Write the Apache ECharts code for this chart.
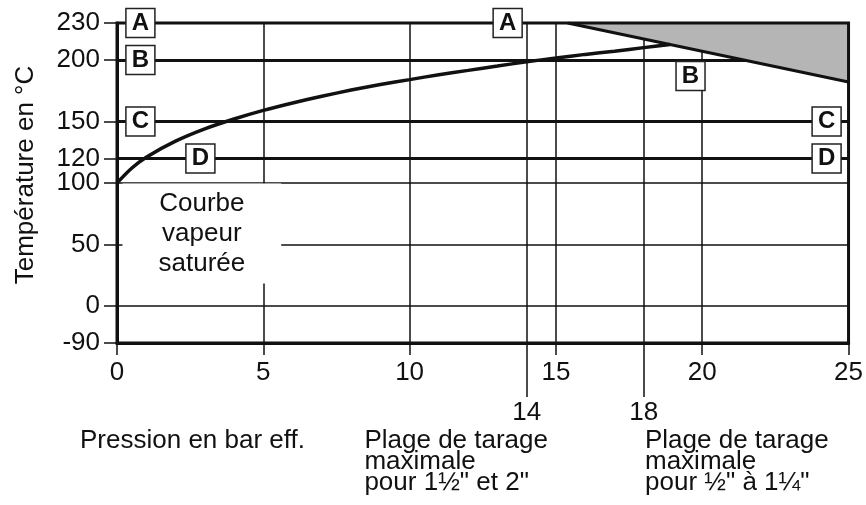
<!DOCTYPE html>
<html>
<head>
<meta charset="utf-8">
<script src="https://cdn.jsdelivr.net/npm/echarts@6/dist/echarts.min.js"></script>
<style>html,body{margin:0;padding:0;background:#fff}#chart{width:866px;height:505px}</style>
</head>
<body>
<div id="chart"></div>
<script>
// courbe vapeur saturée : pression (bar eff.) -> température (°C)
var steamPressure = [0, 0.5, 1, 2, 3, 4, 5, 6, 7, 8, 9, 10, 11, 12, 13, 14, 15, 16, 17, 18, 18.9];
var steamTemp = [100, 112, 121, 134, 144, 152, 159, 165, 170.5, 175.5, 180, 184, 188, 191.5, 195, 198.5, 201.5, 204.5, 207, 210, 212.5];
// limite haute (zone grisée au-dessus)
var limitPressure = [15.4, 25];
var limitTemp = [230, 182];
// lignes repères B, C, D (A = bord haut)
var levelTemp = [200, 150, 120];
var boxLetters = ['A', 'A', 'B', 'B', 'C', 'C', 'D', 'D'];
var boxPressure = [0.8, 13.35, 0.8, 19.6, 0.8, 24.25, 2.85, 24.25];
var boxTemp = [230, 230, 200, 187, 150, 150, 120, 120];
// graduations
var yTicks = [230, 200, 150, 120, 100, 50, 0, -90];
var rangeTicks = [14, 18];

var FONT = '"Liberation Sans", Arial, Helvetica, sans-serif';
var INK = '#111';

// axe coupé : -90 est dessiné à la place de -30
function toAxis(t) { return t < 0 ? t / 3 : t; }
function fromAxis(v) { return v < 0 ? v * 3 : v; }

function zip(xs, ys) {
    return xs.map(function (x, i) { return [x, toAxis(ys[i])]; });
}

var dom = document.getElementById('chart');
var myChart = echarts.init(dom);

var yCustom = yTicks.map(toAxis);

option = {
    backgroundColor: '#fff',
    animation: false,
    grid: {
        show: true,
        z: 10,
        left: 117, right: 9, top: 23, bottom: 162,
        borderWidth: 3,
        borderColor: INK,
        backgroundColor: 'transparent'
    },
    xAxis: [{
        type: 'value',
        min: 0, max: 25, interval: 5,
        axisLine: {show: true, onZero: false, lineStyle: {color: INK, width: 3}},
        axisTick: {show: true, length: 12, lineStyle: {color: INK, width: 1.5}},
        axisLabel: {fontSize: 26, color: INK, fontFamily: FONT, margin: 17},
        splitLine: {show: true, lineStyle: {color: INK, width: 1.5}}
    }, {
        type: 'value',
        position: 'bottom',
        min: 0, max: 25,
        axisLine: {show: false, onZero: false},
        axisTick: {show: true, customValues: rangeTicks, length: 54, lineStyle: {color: INK, width: 1.5}},
        axisLabel: {customValues: rangeTicks, fontSize: 26, color: INK, fontFamily: FONT, margin: 57},
        splitLine: {show: true, lineStyle: {color: INK, width: 1.5}}
    }],
    yAxis: {
        type: 'value',
        min: toAxis(-90), max: 230,
        name: 'Température en °C',
        nameLocation: 'middle',
        nameGap: 78,
        nameTextStyle: {fontSize: 26, color: INK, fontFamily: FONT, padding: [0, 0, 0, 16]},
        axisLine: {show: true, onZero: false, lineStyle: {color: INK, width: 3}},
        axisTick: {show: true, customValues: yCustom, length: 13, lineStyle: {color: INK, width: 1.5}},
        axisLabel: {
            customValues: yCustom, fontSize: 26, color: INK, fontFamily: FONT, margin: 17,
            formatter: function (v) { return String(Math.round(fromAxis(v))); }
        },
        splitLine: {show: true, lineStyle: {color: INK, width: 1.5}}
    },
    series: [
        {
            name: 'repères',
            type: 'line',
            data: [],
            markLine: {
                z: 1,
                silent: true,
                symbol: 'none',
                label: {show: false},
                lineStyle: {color: INK, width: 3, type: 'solid'},
                data: levelTemp.map(function (t) { return {yAxis: toAxis(t)}; })
            }
        },
        {
            name: 'limite',
            type: 'line',
            z: 2,
            symbol: 'none',
            data: zip(limitPressure, limitTemp),
            lineStyle: {color: INK, width: 3},
            areaStyle: {color: '#b5b5b5', opacity: 1, origin: 'end'}
        },
        {
            name: 'Courbe vapeur saturée',
            type: 'line',
            z: 3,
            smooth: 0.3,
            symbol: 'none',
            data: zip(steamPressure, steamTemp),
            lineStyle: {color: INK, width: 3.5}
        },
        {
            name: 'lettres',
            type: 'scatter',
            z: 12,
            symbol: 'rect',
            symbolSize: [29, 29],
            data: zip(boxPressure, boxTemp),
            itemStyle: {color: '#fff', borderColor: '#222', borderWidth: 1.5, opacity: 1},
            label: {
                show: true, position: 'inside',
                formatter: function (p) { return boxLetters[p.dataIndex]; },
                fontSize: 24, fontWeight: 'bold', color: INK, fontFamily: FONT
            }
        },
        {
            name: 'texte',
            type: 'scatter',
            z: 12,
            symbolSize: 1,
            data: [[2.9, 59]],
            itemStyle: {color: '#fff', opacity: 1},
            label: {
                show: true, position: 'inside',
                formatter: 'Courbe\nvapeur\nsaturée',
                backgroundColor: '#fff',
                padding: [5, 36],
                lineHeight: 30,
                opacity: 1,
                textBorderWidth: 0,
                fontSize: 26, color: INK, fontFamily: FONT
            }
        }
    ],
    graphic: [
        {
            type: 'text', left: 80, top: 428,
            style: {text: 'Pression en bar eff.', fontSize: 26, fontFamily: FONT, fill: INK}
        },
        {
            type: 'text', right: 866 - 548, top: 428,
            style: {text: 'Plage de tarage\nmaximale\npour 1½" et 2"', fontSize: 26, fontFamily: FONT, fill: INK, lineHeight: 21, align: 'right'}
        },
        {
            type: 'text', left: 645, top: 428,
            style: {text: 'Plage de tarage\nmaximale\npour ½" à 1¼"', fontSize: 26, fontFamily: FONT, fill: INK, lineHeight: 21}
        }
    ]
};

if (option && typeof option === 'object') {
    myChart.setOption(option, true);
}
</script>
</body>
</html>
